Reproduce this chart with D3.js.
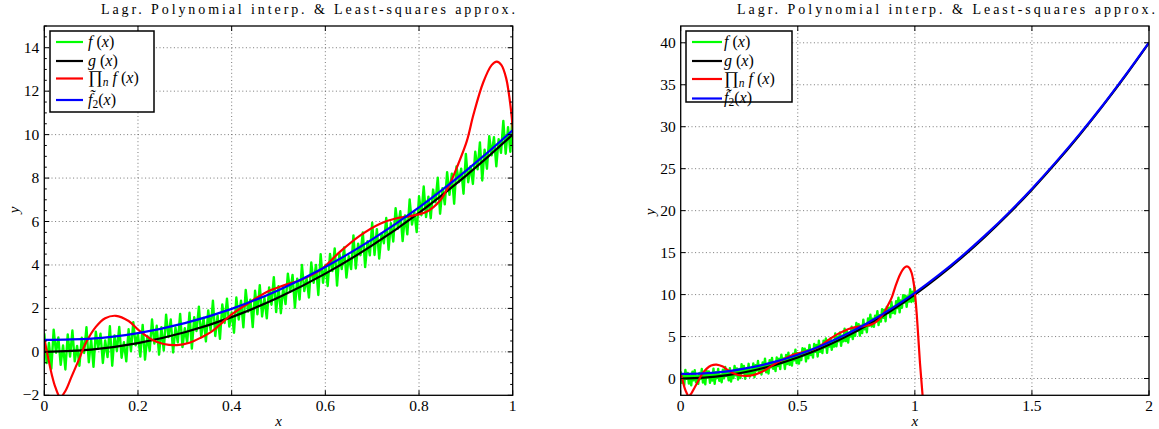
<!DOCTYPE html>
<html><head><meta charset="utf-8">
<script src="https://cdn.jsdelivr.net/npm/d3@7"></script>
</head><body style="margin:0;background:#fff">
<svg id="c" width="1159" height="429" style="display:block"></svg>
<script>
// ---------------- DATA ----------------
const titleText = "Lagr. Polynomial interp. & Least-squares approx.";

// g(x) sampled (black)
const gX = [0,0.1,0.2,0.3,0.4,0.5,0.6,0.7,0.8,0.9,1.0,1.1,1.2,1.3,1.4,1.5,1.6,1.7,1.8,1.9,2.0];
const gY = [0,0.1,0.4,0.9,1.6,2.5,3.6,4.9,6.4,8.1,10,12.1,14.4,16.9,19.6,22.5,25.6,28.9,32.4,36.1,40];

// least-squares quadratic (blue), same x as gX
const f2Y = [0.55,0.61,0.86,1.32,1.98,2.84,3.91,5.18,6.65,8.33,10.2,12.28,14.56,17.05,19.73,22.62,25.72,29.0,32.47,36.17,40.05];

// Lagrange interpolation polynomial (red)
const piX = [0,0.008,0.016,0.024,0.034,0.045,0.058,0.072,0.09,0.11,0.13,0.153,0.18,0.204,0.23,0.255,0.283,0.31,0.333,0.36,0.40,0.44,0.475,0.51,0.546,0.589,0.631,0.674,0.717,0.752,0.781,0.816,0.845,0.866,0.884,0.902,0.916,0.937,0.955,0.966,0.976,0.986,0.996,1.0,1.008,1.015,1.022,1.033,1.045];
const piY = [0.58,-0.25,-1.05,-1.65,-2.08,-1.8,-1.15,-0.45,0.46,1.15,1.55,1.66,1.42,0.95,0.56,0.36,0.31,0.42,0.64,0.98,1.72,2.3,2.76,3.05,3.30,3.76,4.6,5.35,5.9,6.15,6.25,6.45,6.97,7.74,8.66,9.7,10.9,12.4,13.2,13.36,13.2,12.6,11.2,10.3,7.7,4.8,1.8,-2.0,-7.0];

// noisy data f(x) (green), sampled at x = 0, 0.005, ..., 1
const fY = [0.85,-0.52,0.41,-0.78,1.02,-0.04,0.66,-0.60,0.30,-0.81,
0.80,-0.22,0.98,-0.44,0.27,-0.64,0.65,-0.05,1.13,-0.48,
0.58,-0.69,0.93,0.15,0.84,-0.51,0.53,-0.24,1.18,-0.64,
0.76,0.04,1.15,-0.27,0.44,-0.44,1.04,0.03,1.37,0.30,
0.83,-0.22,1.24,-0.36,0.73,0.05,1.49,0.38,1.20,-0.13,
1.13,0.06,1.71,0.68,1.49,-0.03,1.12,0.44,1.75,0.22,
1.09,0.43,1.80,0.15,1.59,0.96,2.08,0.69,1.56,0.48,
1.91,0.99,2.36,0.73,1.68,0.60,2.18,1.33,2.45,1.16,
1.81,0.88,2.50,1.49,2.36,1.13,2.85,1.85,2.40,1.14,
2.81,1.73,3.07,1.63,2.50,1.54,2.97,2.17,3.44,1.83,
3.02,1.78,2.97,2.20,3.60,2.76,3.54,2.03,3.37,2.41,
4.00,2.80,3.38,2.50,4.11,3.18,4.00,2.62,4.50,3.18,
3.99,3.03,4.51,3.72,4.76,3.05,4.52,3.81,4.81,3.42,
4.40,3.81,5.36,3.84,4.98,4.45,5.50,3.90,5.09,4.44,
5.94,4.46,5.65,4.29,5.45,5.00,6.16,4.70,5.92,5.08,
6.61,5.67,6.47,5.10,6.28,5.41,7.01,5.86,6.44,5.51,
7.16,6.29,7.61,6.20,7.14,6.15,7.47,6.88,8.02,6.36,
7.53,6.79,8.27,7.23,8.20,6.82,8.54,7.82,8.43,7.28,
9.11,7.81,8.54,7.73,9.21,8.40,9.64,7.89,9.31,8.43,
9.93,9.05,9.88,8.54,9.79,9.16,10.63,9.12,10.34,9.21,
10.95];
const fStep = 0.005;

const leftXTicks = [0,0.2,0.4,0.6,0.8,1];
const leftYTicks = [-2,0,2,4,6,8,10,12,14];
const rightXTicks = [0,0.5,1,1.5,2];
const rightYTicks = [0,5,10,15,20,25,30,35,40];

const seriesColors = ["#00ff00","#000000","#ff0000","#0000ff"];
const FONT = '"Liberation Serif"';

// ---------------- DRAW ----------------
const svg = d3.select("#c");
const defs = svg.append("defs");
const fX = fY.map((_, i) => i * fStep);

function txt(sel, size) {
  return sel.append("text").attr("font-size", size)
    .style("font-family", FONT).style("fill", "#000");
}

const panels = [
  {id:"L", left:44.3, right:512.7, top:26, bottom:395.3, xd:[0,1], yd:[-2,15],
   xt:leftXTicks, yt:leftYTicks, xfmt:d=>d===0?"0":(d===1?"1":d3.format(".1f")(d)),
   yMinor:0.5, titleX:101, titleW:414, ylabX:19, ylabY:210,
   legend:{x:50,y:31,w:104,h:81, lx0:56, lx1:83, tx:88, rows:[42,61,78.5,100]}},
  {id:"R", left:680.7, right:1149, top:26, bottom:395.3, xd:[0,2], yd:[-2,42],
   xt:rightXTicks, yt:rightYTicks, xfmt:d=>String(d),
   yMinor:null, titleX:737, titleW:418, ylabX:655, ylabY:212,
   legend:{x:686,y:31,w:106,h:71, lx0:692, lx1:722, tx:724, rows:[42,61,79,98.5]}}
];

panels.forEach(p => {
  const x = d3.scaleLinear().domain(p.xd).range([p.left, p.right]);
  const y = d3.scaleLinear().domain(p.yd).range([p.bottom, p.top]);
  const g = svg.append("g");

  defs.append("clipPath").attr("id","clip"+p.id)
    .append("rect").attr("x",p.left).attr("y",p.top)
    .attr("width",p.right-p.left).attr("height",p.bottom-p.top);

  // grid
  const grid = g.append("g").attr("stroke","#555").attr("stroke-width",0.8)
    .attr("stroke-dasharray","1,2.6");
  p.xt.forEach(t => { const X = x(t); if (X > p.left+1 && X < p.right-1)
    grid.append("line").attr("x1",X).attr("x2",X).attr("y1",p.top).attr("y2",p.bottom); });
  p.yt.forEach(t => { const Y = y(t); if (Y > p.top+1 && Y < p.bottom-1)
    grid.append("line").attr("y1",Y).attr("y2",Y).attr("x1",p.left).attr("x2",p.right); });

  // data
  const plot = g.append("g").attr("clip-path","url(#clip"+p.id+")").attr("fill","none")
    .attr("stroke-linejoin","round");
  const lineLin = d3.line().x(d=>x(d[0])).y(d=>y(d[1]));
  const lineMono = d3.line().x(d=>x(d[0])).y(d=>y(d[1])).curve(d3.curveMonotoneX);
  const lineCR = d3.line().x(d=>x(d[0])).y(d=>y(d[1])).curve(d3.curveCatmullRom.alpha(0.5));

  plot.append("path").attr("d", lineLin(fX.map((v,i)=>[v,fY[i]])))
    .attr("stroke",seriesColors[0]).attr("stroke-width",2.4);
  plot.append("path").attr("d", lineMono(gX.map((v,i)=>[v,gY[i]])))
    .attr("stroke",seriesColors[1]).attr("stroke-width",2.2);
  plot.append("path").attr("d", lineCR(piX.map((v,i)=>[v,piY[i]])))
    .attr("stroke",seriesColors[2]).attr("stroke-width",2.2);
  plot.append("path").attr("d", lineMono(gX.map((v,i)=>[v,f2Y[i]])))
    .attr("stroke",seriesColors[3]).attr("stroke-width",2.2);

  // box
  g.append("rect").attr("x",p.left).attr("y",p.top).attr("width",p.right-p.left)
    .attr("height",p.bottom-p.top).attr("fill","none").attr("stroke","#000").attr("stroke-width",1.3);

  // ticks
  const tk = g.append("g").attr("stroke","#000").attr("stroke-width",1);
  const TL = 5;
  p.xt.forEach(t => { const X = x(t);
    tk.append("line").attr("x1",X).attr("x2",X).attr("y1",p.bottom).attr("y2",p.bottom-TL);
    tk.append("line").attr("x1",X).attr("x2",X).attr("y1",p.top).attr("y2",p.top+TL);
    txt(g, 15.5).attr("x",X).attr("y",410.5).attr("text-anchor","middle").text(p.xfmt(t));
  });
  p.yt.forEach(t => { const Y = y(t);
    tk.append("line").attr("x1",p.left).attr("x2",p.left+TL).attr("y1",Y).attr("y2",Y);
    tk.append("line").attr("x1",p.right).attr("x2",p.right-TL).attr("y1",Y).attr("y2",Y);
    txt(g, 15.5).attr("x",p.left-5).attr("y",Y+5).attr("text-anchor","end")
      .text(t < 0 ? "\u2212" + Math.abs(t) : String(t));
  });
  if (p.yMinor) {
    for (let v = p.yd[0]; v <= p.yd[1] + 1e-9; v += p.yMinor) {
      if (p.yt.some(t => Math.abs(t - v) < 1e-9)) continue;
      const Y = y(v);
      tk.append("line").attr("x1",p.left).attr("x2",p.left+2.5).attr("y1",Y).attr("y2",Y);
      tk.append("line").attr("x1",p.right).attr("x2",p.right-2.5).attr("y1",Y).attr("y2",Y);
    }
  }

  // title
  txt(g, 14).attr("x",p.titleX).attr("y",14)
    .attr("textLength",p.titleW).attr("lengthAdjust","spacing").text(titleText);

  // axis labels
  txt(g, 15).attr("x",(p.left+p.right)/2).attr("y",426).attr("text-anchor","middle")
    .attr("font-style","italic").text("x");
  txt(g, 15).attr("transform",`translate(${p.ylabX},${p.ylabY}) rotate(-90)`)
    .attr("text-anchor","middle").attr("font-style","italic").text("y");

  // legend
  const L = p.legend;
  const lg = g.append("g");
  lg.append("rect").attr("x",L.x).attr("y",L.y).attr("width",L.w).attr("height",L.h)
    .attr("fill","#fff").attr("stroke","#000").attr("stroke-width",1.5);
  const labels = [
    [{t:"f",i:1},{t:" (",i:0},{t:"x",i:1},{t:")",i:0}],
    [{t:"g",i:1},{t:" (",i:0},{t:"x",i:1},{t:")",i:0}],
    [{t:"\u220F",i:0,fs:18},{t:"n",i:1,sub:1},{t:" f",i:1},{t:" (",i:0},{t:"x",i:1},{t:")",i:0}],
    [{t:"f\u0303",i:1},{t:"2",i:0,sub:1},{t:"(",i:0},{t:"x",i:1},{t:")",i:0}]
  ];
  L.rows.forEach((ry, k) => {
    lg.append("line").attr("x1",L.lx0).attr("x2",L.lx1).attr("y1",ry).attr("y2",ry)
      .attr("stroke",seriesColors[k]).attr("stroke-width",2.2);
    const tx = txt(lg, 16).attr("x",L.tx).attr("y",ry+4.5);
    let shifted = false;
    labels[k].forEach(s => {
      const ts = tx.append("tspan").text(s.t).attr("font-style", s.i ? "italic" : "normal");
      if (s.fs) ts.attr("font-size", s.fs);
      if (s.sub) { ts.attr("font-size",11.5).attr("dy",3); shifted = true; }
      else if (shifted) { ts.attr("dy",-3); shifted = false; }
    });
  });
});
</script>
</body></html>
